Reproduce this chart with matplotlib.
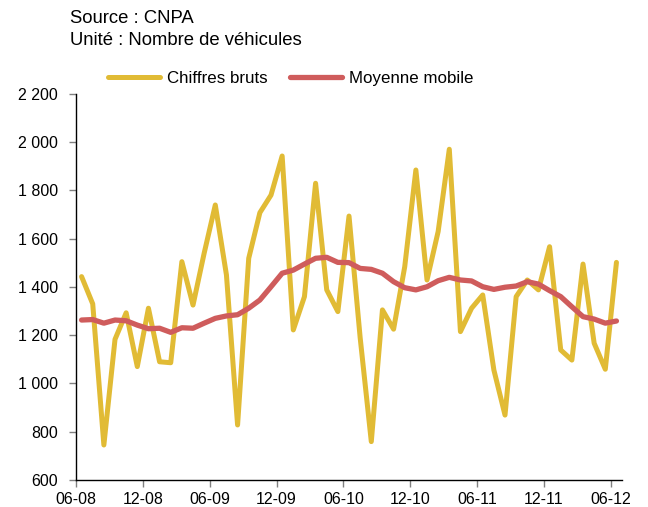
import matplotlib.pyplot as plt
import numpy as np

plt.rcParams["font.family"] = ["Liberation Sans", "DejaVu Sans"]

# Immatriculations mensuelles, juin 2008 -> juin 2012
months = ["06-08", "12-08", "06-09", "12-09", "06-10", "12-10", "06-11", "12-11", "06-12"]

raw = [1443, 1330, 745, 1183, 1293, 1070, 1312, 1090, 1086, 1505,
       1325, 1540, 1740, 1450, 828, 1519, 1708, 1781, 1943, 1222,
       1360, 1830, 1388, 1298, 1694, 1190, 759, 1305, 1225, 1484,
       1885, 1429, 1630, 1971, 1215, 1312, 1367, 1056, 869, 1360,
       1429, 1388, 1567, 1139, 1097, 1495, 1167, 1059, 1502]

moving_avg = [1263, 1265, 1250, 1263, 1260, 1242, 1227, 1229, 1212, 1231,
              1229, 1250, 1270, 1280, 1285, 1312, 1346, 1401, 1457, 1470,
              1495, 1519, 1523, 1502, 1501, 1477, 1473, 1457, 1422, 1397,
              1388, 1401, 1426, 1440, 1429, 1425, 1401, 1390, 1399, 1404,
              1422, 1412, 1385, 1360, 1318, 1277, 1267, 1250, 1259]

YELLOW = "#E1BB35"
RED = "#CF5C5C"

fig = plt.figure(figsize=(6.48, 5.07), dpi=100)
ax = fig.add_axes([0.1173, 0.0533, 0.8426, 0.7613])

x = np.arange(len(raw)) + 0.5
ax.plot(x, raw, color=YELLOW, lw=3.6, solid_joinstyle="round",
        solid_capstyle="round", label="Chiffres bruts")
ax.plot(x, moving_avg, color=RED, lw=3.8, solid_joinstyle="round",
        solid_capstyle="round", label="Moyenne mobile")

ax.set_xlim(0, len(raw))
ax.set_ylim(600, 2200)
ax.set_xticks(np.arange(0, len(raw), 6))
ax.set_xticklabels(months, fontsize=11.5)
yt = np.arange(600, 2201, 200)
ax.set_yticks(yt)
ax.set_yticklabels([f"{v:,}".replace(",", " ") for v in yt], fontsize=11.5)

ax.spines["top"].set_visible(False)
ax.spines["right"].set_visible(False)
ax.spines["left"].set_linewidth(1.0)
ax.spines["bottom"].set_linewidth(1.0)
ax.tick_params(axis="y", length=5, width=1, color="#808080", pad=8)
ax.tick_params(axis="x", length=5, width=1, color="#808080", pad=4)

fig.text(0.108, 0.963, "Source : CNPA", fontsize=13.3, va="center")
fig.text(0.108, 0.920, "Unité : Nombre de véhicules", fontsize=13.3, va="center")

fig.legend(loc="center left", bbox_to_anchor=(0.166, 0.846), ncol=2, frameon=False,
           fontsize=12.2, handlelength=3.1, handletextpad=0.4, columnspacing=1.3,
           borderaxespad=0, borderpad=0)

fig.savefig("out.png", dpi=100)
